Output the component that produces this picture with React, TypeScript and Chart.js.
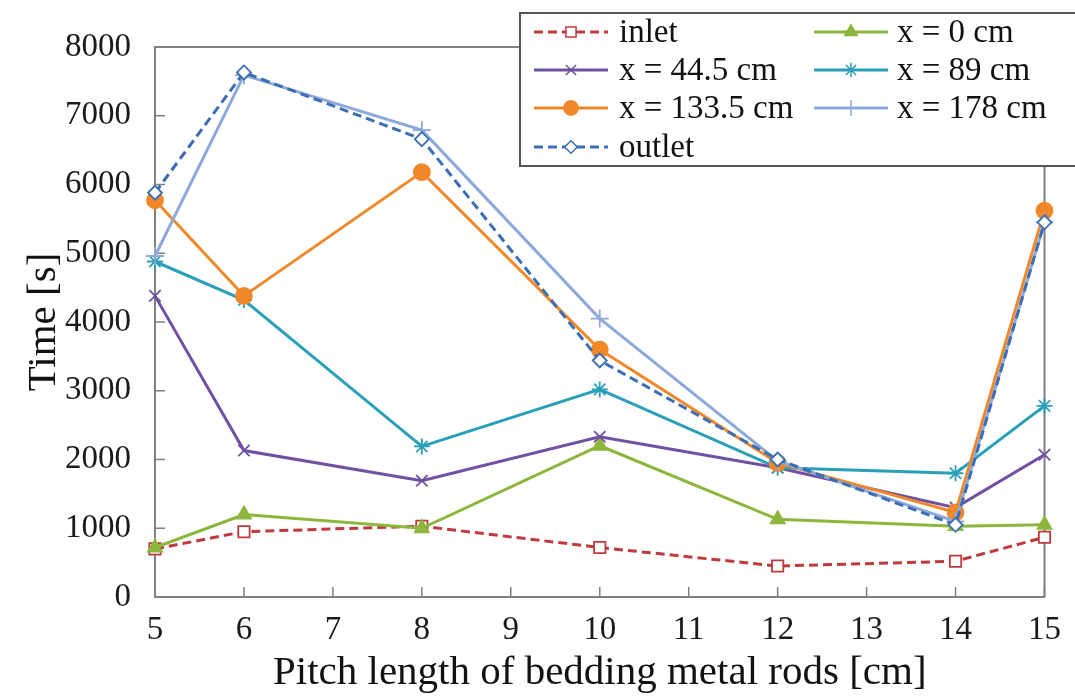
import React, { useEffect, useRef } from 'react';
import { Chart, registerables } from 'chart.js';
import { drawPoint } from 'chart.js/helpers';

Chart.register(...registerables);

const categories = ['5', '6', '7', '8', '9', '10', '11', '12', '13', '14', '15'];
const yMin = 0;
const yMax = 8000;
const yStep = 1000;

const inlet = [700, 950, null, 1030, null, 720, null, 450, null, 520, 870];
const x0 = [720, 1200, null, 1000, null, 2200, null, 1130, null, 1030, 1050];
const x44 = [4380, 2130, null, 1690, null, 2330, null, 1880, null, 1300, 2070];
const x89 = [4880, 4320, null, 2190, null, 3020, null, 1880, null, 1800, 2780];
const x133 = [5770, 4380, null, 6180, null, 3600, null, 1950, null, 1230, 5620];
const x178 = [4960, 7590, null, 6790, null, 4050, null, 1980, null, 1100, 5450];
const outlet = [5880, 7630, null, 6660, null, 3440, null, 2000, null, 1050, 5450];

const seriesNames = ['inlet', 'x = 0 cm', 'x = 44.5 cm', 'x = 89 cm', 'x = 133.5 cm', 'x = 178 cm', 'outlet'];
const xTitle = 'Pitch length of bedding metal rods [cm]';
const yTitle = 'Time [s]';

const SERIF = "'Liberation Serif', 'Times New Roman', serif";

const styles = [
  { color: '#BE3A3C', dash: [9, 5], point: 'rect', radius: 8, fill: '#ffffff' },
  { color: '#8CB63C', dash: [], point: 'triangle', radius: 8, fill: '#8CB63C' },
  { color: '#7050A0', dash: [], point: 'crossRot', radius: 8, fill: '#7050A0' },
  { color: '#2AA0B8', dash: [], point: 'star', radius: 8, fill: '#2AA0B8' },
  { color: '#F0882A', dash: [], point: 'circle', radius: 8, fill: '#F0882A' },
  { color: '#8DA9DB', dash: [], point: 'cross', radius: 9, fill: '#8DA9DB' },
  { color: '#3B6EB4', dash: [9, 5], point: 'rectRot', radius: 7, fill: '#ffffff' },
];

const allData = [inlet, x0, x44, x89, x133, x178, outlet];

const framePlugin = {
  id: 'frame',
  beforeDatasetsDraw(chart: any) {
    const { ctx, chartArea } = chart;
    const xs = chart.scales.x;
    const ys = chart.scales.y;
    ctx.save();
    ctx.strokeStyle = '#808080';
    ctx.lineWidth = 2;
    ctx.beginPath();
    ctx.moveTo(chartArea.left, chartArea.top);
    ctx.lineTo(chartArea.right, chartArea.top);
    ctx.lineTo(chartArea.right, chartArea.bottom);
    ctx.stroke();
    ctx.lineWidth = 1.5;
    ctx.beginPath();
    xs.ticks.forEach((_t: any, i: number) => {
      const px = xs.getPixelForTick(i);
      ctx.moveTo(px, chartArea.bottom);
      ctx.lineTo(px, chartArea.bottom - 10);
    });
    ys.ticks.forEach((_t: any, i: number) => {
      const py = ys.getPixelForTick(i);
      ctx.moveTo(chartArea.left, py);
      ctx.lineTo(chartArea.left + 10, py);
    });
    ctx.stroke();
    ctx.restore();
  },
};

const legendPlugin = {
  id: 'customLegend',
  afterDraw(chart: any) {
    const { ctx } = chart;
    const boxX = 520;
    const boxY = 13;
    const boxW = 600;
    const boxH = 153;
    ctx.save();
    ctx.fillStyle = '#ffffff';
    ctx.fillRect(boxX, boxY, boxW, boxH);
    ctx.strokeStyle = '#555555';
    ctx.lineWidth = 2;
    ctx.strokeRect(boxX, boxY, boxW, boxH);
    const rowY = [32, 70, 108, 147];
    const colLine = [[534, 608], [814, 888]];
    const colText = [619, 897];
    ctx.font = `33px ${SERIF}`;
    ctx.textBaseline = 'middle';
    ctx.textAlign = 'left';
    chart.data.datasets.forEach((ds: any, i: number) => {
      const row = Math.floor(i / 2);
      const col = i % 2;
      const y = rowY[row];
      const [x1, x2] = colLine[col];
      const st = styles[i];
      ctx.strokeStyle = st.color;
      ctx.lineWidth = 3;
      ctx.setLineDash(st.dash);
      ctx.beginPath();
      ctx.moveTo(x1, y);
      ctx.lineTo(x2, y);
      ctx.stroke();
      ctx.setLineDash([]);
      ctx.fillStyle = st.fill;
      ctx.strokeStyle = st.color;
      ctx.lineWidth = 1.5;
      drawPoint(ctx, { pointStyle: st.point, radius: st.radius * 0.9, rotation: 0, borderWidth: 1.5 } as any, (x1 + x2) / 2, y);
      ctx.fillStyle = '#111111';
      ctx.fillText(ds.label, colText[col], y + 1);
    });
    ctx.restore();
  },
};

export default function App() {
  const ref = useRef<HTMLCanvasElement | null>(null);
  useEffect(() => {
    document.body.style.margin = '0';
    const canvas = ref.current;
    if (!canvas) return;
    const datasets = allData.map((d, i) => ({
      label: seriesNames[i],
      data: d,
      borderColor: styles[i].color,
      backgroundColor: styles[i].fill,
      pointBorderColor: styles[i].color,
      pointBackgroundColor: styles[i].fill,
      borderWidth: 3,
      borderDash: styles[i].dash,
      pointStyle: styles[i].point,
      pointRadius: styles[i].radius,
      pointBorderWidth: 1.8,
      spanGaps: true,
      tension: 0,
      order: 6 - i,
    }));
    const chart = new Chart(canvas, {
      type: 'line',
      data: { labels: categories, datasets },
      plugins: [framePlugin, legendPlugin],
      options: {
        animation: false,
        responsive: false,
        maintainAspectRatio: false,
        layout: { padding: { left: 0, top: 47, right: 28, bottom: 0 } },
        plugins: { legend: { display: false }, tooltip: { enabled: false } },
        scales: {
          x: {
            type: 'category',
            offset: false,
            grid: { display: false, drawTicks: false },
            border: { display: true, color: '#808080', width: 2 },
            ticks: { color: '#1a1a1a', font: { family: SERIF, size: 33 }, padding: 14, maxRotation: 0, autoSkip: false },
            title: { display: true, text: xTitle, color: '#111111', font: { family: SERIF, size: 41 }, padding: { top: 0, bottom: 0 } },
            afterFit: (s: any) => { s.height = 101; },
          },
          y: {
            min: yMin,
            max: yMax,
            grid: { display: false, drawTicks: false },
            border: { display: true, color: '#808080', width: 2 },
            ticks: { stepSize: yStep, color: '#1a1a1a', font: { family: SERIF, size: 33 }, padding: 24, callback: (v: any) => String(v) },
            title: { display: true, text: yTitle, color: '#111111', font: { family: SERIF, size: 41 }, padding: { top: 20, bottom: 0 } },
            afterFit: (s: any) => { s.width = 155; },
          },
        },
      },
    });
    return () => chart.destroy();
  }, []);
  return (
    <div style={{ position: 'absolute', left: 0, top: 0, width: 1075, height: 698, background: '#ffffff' }}>
      <canvas ref={ref} width={1075} height={698} />
    </div>
  );
}
